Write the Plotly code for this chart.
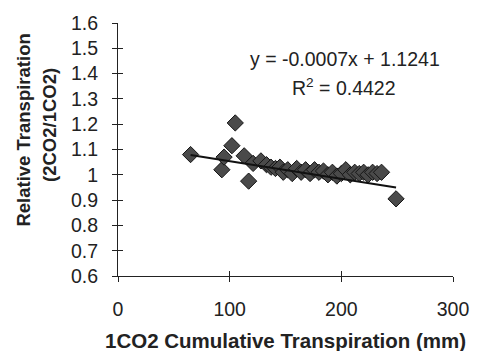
import plotly.graph_objects as go

# Data
cum_transp_1co2 = [65, 93, 95, 102, 105, 113, 117, 121, 128, 133, 137, 141, 145, 148,
                   152, 156, 160, 164, 168, 172, 176, 180, 184, 188, 192, 196, 200,
                   204, 208, 212, 216, 220, 224, 228, 232, 236, 249]
relative_transp = [1.08, 1.02, 1.07, 1.115, 1.205, 1.075, 0.975, 1.045, 1.055, 1.04,
                   1.03, 1.025, 1.03, 1.01, 1.02, 1.005, 1.025, 1.01, 1.02, 1.005,
                   1.02, 1.01, 1.015, 1.0, 1.01, 0.995, 1.005, 1.02, 1.0, 1.01, 1.005,
                   1.01, 1.0, 1.01, 1.005, 1.01, 0.905]

trend_slope = [-0.0007]
trend_intercept = [1.1241]
r_squared = ["0.4422"]

x_ticks = [0, 100, 200, 300]
x_tick_labels = ["0", "100", "200", "300"]
y_ticks = [0.6, 0.7, 0.8, 0.9, 1.0, 1.1, 1.2, 1.3, 1.4, 1.5, 1.6]
y_tick_labels = ["0.6", "0.7", "0.8", "0.9", "1", "1.1", "1.2", "1.3", "1.4", "1.5", "1.6"]

FONT = "Liberation Sans, Arial, sans-serif"

xmin, xmax = min(cum_transp_1co2), max(cum_transp_1co2)
trend_x = [xmin, xmax]
trend_y = [trend_slope[0] * v + trend_intercept[0] for v in trend_x]

fig = go.Figure()
fig.add_trace(go.Scatter(
    x=cum_transp_1co2, y=relative_transp, mode="markers",
    marker=dict(symbol="diamond", size=12.5, color="#4a4a4a",
                line=dict(color="#151515", width=1)),
    showlegend=False, hoverinfo="skip"))
fig.add_trace(go.Scatter(
    x=trend_x, y=trend_y, mode="lines",
    line=dict(color="#111111", width=2),
    showlegend=False, hoverinfo="skip"))
# helper trace for the overlay axes (crossing tick marks)
fig.add_trace(go.Scatter(x=[None], y=[None], xaxis="x2", yaxis="y2",
                         showlegend=False, hoverinfo="skip"))

axis_common = dict(showgrid=False, zeroline=False)
fig.update_layout(
    width=481, height=351,
    margin=dict(l=118, r=19, t=23, b=75),
    paper_bgcolor="white", plot_bgcolor="white",
    font=dict(family=FONT, size=19.5, color="#222222"),
    xaxis=dict(range=[0, 300], tickvals=x_ticks, ticktext=x_tick_labels,
               ticks="outside", ticklen=5, tickcolor="#222", tickwidth=1,
               showline=True, linecolor="#222", linewidth=1,
               ticklabelstandoff=11, **axis_common),
    yaxis=dict(range=[0.6, 1.6], tickvals=y_ticks, ticktext=y_tick_labels,
               ticks="outside", ticklen=5, tickcolor="#222", tickwidth=1,
               showline=True, linecolor="#222", linewidth=1,
               ticklabelstandoff=10, **axis_common),
    xaxis2=dict(range=[0, 300], overlaying="x", tickvals=x_ticks,
                ticks="inside", ticklen=5, tickcolor="#222", showticklabels=False,
                showline=False, anchor="y2", side="bottom", **axis_common),
    yaxis2=dict(range=[0.6, 1.6], overlaying="y", tickvals=y_ticks,
                ticks="inside", ticklen=5, tickcolor="#222", showticklabels=False,
                showline=False, anchor="x2", side="left", **axis_common),
)

annotations = [
    dict(text="y = %.4fx + %.4f" % (trend_slope[0], trend_intercept[0]),
         x=0.679, y=0.858, font=dict(size=19.5)),
    dict(text="R<sup>2</sup> = " + r_squared[0], x=0.674, y=0.747, font=dict(size=19.5)),
    dict(text="<b>1CO2 Cumulative Transpiration (mm)</b>", x=0.5, y=-0.253,
         font=dict(size=20.5)),
    dict(text="<b>Relative Transpiration</b>", x=-0.285, y=0.577, textangle=-90,
         font=dict(size=18.5)),
    dict(text="<b>(2CO2/1CO2)</b>", x=-0.203, y=0.597, textangle=-90,
         font=dict(size=18.5)),
]
for a in annotations:
    fig.add_annotation(xref="paper", yref="paper", showarrow=False,
                       xanchor="center", yanchor="middle", **a)

fig.write_html("out.html")
